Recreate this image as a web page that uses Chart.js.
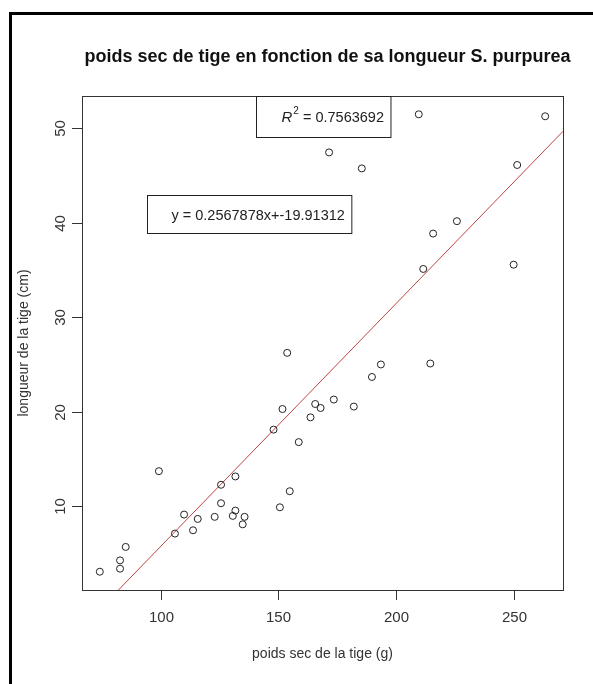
<!DOCTYPE html>
<html>
<head>
<meta charset="utf-8">
<script src="https://cdn.jsdelivr.net/npm/chart.js@4.4.1/dist/chart.umd.min.js"></script>
<style>
  html, body { margin: 0; padding: 0; background: #ffffff; }
  #wrap { width: 593px; height: 684px; position: relative; }
</style>
</head>
<body>
<div id="wrap"><canvas id="c" width="593" height="684"></canvas></div>
<script>
// ---- data ----
const poids = [74.1, 82.7, 82.7, 85.1, 99.2, 106.0, 109.9, 113.7, 115.7, 122.9,
               125.6, 125.6, 131.7, 130.6, 131.7, 135.6, 134.8, 150.6, 154.8, 158.6,
               147.9, 151.7, 153.7, 163.6, 165.6, 167.9, 173.5, 182.0, 189.7, 193.5,
               214.5, 211.5, 215.7, 225.8, 249.9, 251.4, 263.3, 209.6, 171.5, 185.4];
const longueur = [3.08, 4.28, 3.40, 5.70, 13.71, 7.11, 9.12, 7.46, 8.66, 8.88,
                  12.27, 10.32, 13.15, 8.98, 9.54, 8.88, 8.09, 9.89, 11.59, 16.78,
                  18.10, 20.28, 26.22, 19.40, 20.81, 20.39, 21.28, 20.54, 23.67, 24.99,
                  25.09, 35.09, 38.83, 40.14, 35.54, 46.08, 51.23, 51.44, 47.41, 45.72];
const xTicks = [100, 150, 200, 250];
const yTicks = [10, 20, 30, 40, 50];
const slope = 0.2567878;
const intercept = -19.91312;
const r2 = 0.7563692;
const titleText = "poids sec de tige en fonction de sa longueur S. purpurea";
const xTitle = "poids sec de la tige (g)";
const yTitle = "longueur de la tige (cm)";
const eqText = "y = " + slope + "x+" + intercept;
const r2Text = " = " + r2;
// legend anchors (data coordinates: top-left corner)
const r2Anchor = { x: 140.4, y: 53.4 };
const eqAnchor = { x: 94.3, y: 42.95 };

// ---- R-like axis ranges (data range +/- 4%) ----
function ext(arr) {
  const mn = Math.min(...arr), mx = Math.max(...arr), r = mx - mn;
  return [mn - 0.04 * r, mx + 0.04 * r];
}
const [xmin, xmax] = ext(poids);
const [ymin, ymax] = ext(longueur);

const pts = poids.map((x, i) => ({ x: x, y: longueur[i] }));
const lineX = [xmin, xmax];
const linePts = lineX.map(x => ({ x: x, y: slope * x + intercept }));

const FONT = '"Liberation Sans", Arial, sans-serif';

const decor = {
  id: 'decor',
  afterDraw(chart) {
    const ctx = chart.ctx, a = chart.chartArea;
    const xs = chart.scales.x, ys = chart.scales.y;
    ctx.save();
    // outer frame
    ctx.strokeStyle = '#000';
    ctx.lineWidth = 3;
    ctx.beginPath();
    ctx.moveTo(10.5, 684);
    ctx.lineTo(10.5, 13.5);
    ctx.lineTo(593, 13.5);
    ctx.stroke();

    // plot box
    ctx.strokeStyle = '#333';
    ctx.lineWidth = 1;
    ctx.strokeRect(Math.round(a.left) + 0.5, Math.round(a.top) + 0.5,
                   Math.round(a.right - a.left), Math.round(a.bottom - a.top));

    // x ticks
    ctx.fillStyle = '#333';
    ctx.font = '15px ' + FONT;
    ctx.textAlign = 'center';
    ctx.textBaseline = 'middle';
    xTicks.forEach(t => {
      const px = Math.round(xs.getPixelForValue(t)) + 0.5;
      ctx.beginPath();
      ctx.moveTo(px, a.bottom);
      ctx.lineTo(px, a.bottom + 10);
      ctx.stroke();
      ctx.fillText(String(t), px, a.bottom + 28);
    });
    // y ticks
    yTicks.forEach(t => {
      const py = Math.round(ys.getPixelForValue(t)) + 0.5;
      ctx.beginPath();
      ctx.moveTo(a.left, py);
      ctx.lineTo(a.left - 10, py);
      ctx.stroke();
      ctx.save();
      ctx.translate(a.left - 21, py);
      ctx.rotate(-Math.PI / 2);
      ctx.fillText(String(t), 0, 0);
      ctx.restore();
    });

    // axis titles
    ctx.font = '14px ' + FONT;
    ctx.fillText(xTitle, (a.left + a.right) / 2, a.bottom + 64);
    ctx.save();
    ctx.translate(24, (a.top + a.bottom) / 2);
    ctx.rotate(-Math.PI / 2);
    ctx.fillText(yTitle, 0, 0);
    ctx.restore();

    // main title
    ctx.fillStyle = '#111';
    ctx.font = 'bold 18px ' + FONT;
    ctx.fillText(titleText, (a.left + a.right) / 2 + 5, 57);

    // R^2 legend box
    ctx.strokeStyle = '#222';
    {
      const bx = Math.round(xs.getPixelForValue(r2Anchor.x)) + 0.5;
      const by = Math.round(ys.getPixelForValue(r2Anchor.y)) + 0.5;
      ctx.font = 'italic 15px ' + FONT;
      const wR = ctx.measureText('R').width;
      ctx.font = '10px ' + FONT;
      const w2 = ctx.measureText('2').width;
      ctx.font = '14.5px ' + FONT;
      const wRest = ctx.measureText(r2Text).width;
      const padL = 25, padR = 7, h = 41;
      const w = padL + wR + w2 + 1 + wRest + padR;
      ctx.fillStyle = '#fff';
      ctx.fillRect(bx, by, w, h);
      ctx.strokeRect(bx, by, w, h);
      ctx.fillStyle = '#222';
      ctx.textAlign = 'left';
      let tx = bx + padL;
      const ty = by + h / 2 + 1;
      ctx.font = 'italic 15px ' + FONT;
      ctx.fillText('R', tx, ty); tx += wR + 1;
      ctx.font = '10px ' + FONT;
      ctx.fillText('2', tx, ty - 7); tx += w2;
      ctx.font = '14.5px ' + FONT;
      ctx.fillText(r2Text, tx, ty);
    }
    // equation legend box
    {
      const bx = Math.round(xs.getPixelForValue(eqAnchor.x)) + 0.5;
      const by = Math.round(ys.getPixelForValue(eqAnchor.y)) + 0.5;
      ctx.font = '14.5px ' + FONT;
      const wt = ctx.measureText(eqText).width;
      const padL = 24, padR = 7, h = 38;
      const w = padL + wt + padR;
      ctx.fillStyle = '#fff';
      ctx.fillRect(bx, by, w, h);
      ctx.strokeRect(bx, by, w, h);
      ctx.fillStyle = '#222';
      ctx.textAlign = 'left';
      ctx.fillText(eqText, bx + padL, by + h / 2 + 1);
    }
    ctx.restore();
  }
};

new Chart(document.getElementById('c'), {
  type: 'scatter',
  data: {
    datasets: [
      {
        label: 'observations',
        data: pts,
        pointStyle: 'circle',
        pointRadius: 3.5,
        pointHoverRadius: 3.5,
        pointBorderWidth: 1,
        pointBackgroundColor: 'rgba(0,0,0,0)',
        pointBorderColor: '#222',
        showLine: false,
        order: 1
      },
      {
        type: 'line',
        label: 'regression',
        data: linePts,
        borderColor: '#bf4442',
        borderWidth: 1,
        pointRadius: 0,
        fill: false,
        order: 2
      }
    ]
  },
  options: {
    responsive: false,
    animation: false,
    devicePixelRatio: 1,
    layout: { padding: { left: 82, top: 96, right: 30, bottom: 94 } },
    plugins: { legend: { display: false }, tooltip: { enabled: false }, title: { display: false } },
    scales: {
      x: { type: 'linear', min: xmin, max: xmax, display: false },
      y: { type: 'linear', min: ymin, max: ymax, display: false }
    }
  },
  plugins: [decor]
});
</script>
</body>
</html>
